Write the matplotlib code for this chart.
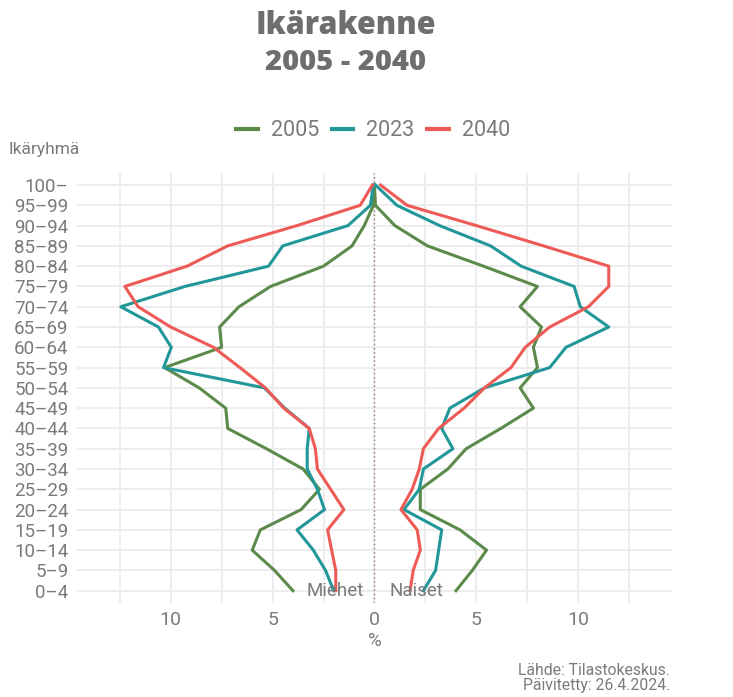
import numpy as np
import matplotlib
matplotlib.use("Agg")
from matplotlib import pyplot as plt

ages = ["0–4", "5–9", "10–14", "15–19", "20–24", "25–29", "30–34", "35–39",
        "40–44", "45–49", "50–54", "55–59", "60–64", "65–69", "70–74",
        "75–79", "80–84", "85–89", "90–94", "95–99", "100–"]

# osuudet (%), 0-4 -> 100-
men_2005 = [4.0, 4.9, 6.0, 5.6, 3.6, 2.7, 3.5, 5.3, 7.2, 7.3, 8.6, 10.3,
            7.5, 7.6, 6.65, 5.1, 2.5, 1.1, 0.5, 0.05, 0.03]
men_2023 = [2.0, 2.4, 3.0, 3.8, 2.45, 2.8, 3.3, 3.3, 3.2, 4.4, 5.4, 10.35,
            9.97, 10.6, 12.45, 9.3, 5.2, 4.5, 1.3, 0.2, 0.05]
men_2040 = [1.9, 1.9, 2.1, 2.3, 1.5, 2.15, 2.8, 2.9, 3.2, 4.45, 5.35, 6.6,
            7.9, 10.0, 11.6, 12.25, 9.2, 7.2, 3.8, 0.7, 0.1]
women_2005 = [4.0, 4.8, 5.5, 4.2, 2.25, 2.25, 3.6, 4.5, 6.2, 7.8, 7.15, 8.0,
              7.8, 8.2, 7.15, 8.0, 5.35, 2.6, 1.0, 0.05, 0.0]
women_2023 = [2.4, 3.0, 3.15, 3.3, 1.45, 2.2, 2.4, 3.85, 3.3, 3.7, 5.4, 8.6,
              9.4, 11.5, 10.1, 9.8, 7.2, 5.7, 3.2, 1.1, 0.05]
women_2040 = [1.75, 1.9, 2.25, 2.1, 1.3, 1.85, 2.2, 2.4, 3.15, 4.4, 5.4, 6.7,
              7.4, 8.6, 10.5, 11.5, 11.5, 8.3, 5.0, 1.6, 0.3]

years = ["2005", "2023", "2040"]
colors = ["#5b8a4b", "#21979a", "#ee5a55"]
men = [men_2005, men_2023, men_2040]
women = [women_2005, women_2023, women_2040]

grey = "#7a7a7a"
plt.rcParams['font.family'] = ['Roboto', 'DejaVu Sans']

fig = plt.figure(figsize=(7.33, 6.97), dpi=100)
ax = fig.add_axes([0.105, 0.135, 0.8117, 0.617])

y = np.arange(len(ages))
for yr, c, m, w in zip(years, colors, men, women):
    ax.plot(-np.array(m), y, color=c, lw=2.2, label=yr)
    ax.plot(np.array(w), y, color=c, lw=2.2)

ax.axvline(0, color="#9a7070", lw=1.0, ls=(0, (1, 2)), zorder=1)

ax.set_xlim(-14.6, 14.6)
ax.set_ylim(-0.6, len(ages) - 0.4)
ax.set_xticks([-10, -5, 0, 5, 10])
ax.set_xticklabels(["10", "5", "0", "5", "10"])
ax.set_xticks([-12.5, -7.5, -2.5, 2.5, 7.5, 12.5], minor=True)
ax.set_yticks(y)
ax.set_yticklabels(ages)
ax.tick_params(axis="both", which="both", length=0, colors=grey, labelsize=13.5)
ax.tick_params(axis="x", labelsize=14, pad=6)
ax.tick_params(axis="y", pad=6)
ax.grid(True, which="both", color="#ececec", lw=1.3)
ax.set_axisbelow(True)
for s in ax.spines.values():
    s.set_visible(False)
ax.set_xlabel("%", color=grey, fontsize=13.5, labelpad=2)

ax.text(-0.5, 0, "Miehet", ha="right", va="center", color=grey, fontsize=13.5)
ax.text(0.75, 0, "Naiset", ha="left", va="center", color=grey, fontsize=13.5)

fig.text(0.4714, 0.962, "Ikärakenne", ha="center", va="center", fontsize=22,
         family=["Open Sans", "DejaVu Sans"], fontweight="heavy", color="#6e6e6e")
fig.text(0.4714, 0.910, "2005 - 2040", ha="center", va="center", fontsize=21,
         family=["Open Sans", "DejaVu Sans"], fontweight="heavy", color="#6e6e6e")
fig.text(0.011, 0.785, "Ikäryhmä", ha="left", va="center", fontsize=12.5, color=grey)

leg = fig.legend(loc="center", bbox_to_anchor=(0.509, 0.8125), ncol=3, frameon=False,
                 fontsize=15.5, handlelength=1.0, columnspacing=0.6, handletextpad=0.6)
for t in leg.get_texts():
    t.set_color(grey)
for h in leg.get_lines():
    h.set_linewidth(3)

fig.text(0.914, 0.027, "Lähde: Tilastokeskus.\nPäivitetty: 26.4.2024.", ha="right",
         va="center", fontsize=11.3, color=grey, linespacing=1.0)

fig.savefig("out.png", dpi=100)
